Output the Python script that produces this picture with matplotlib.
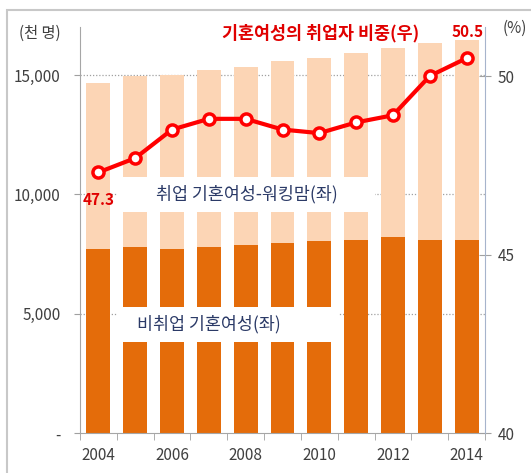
import matplotlib
matplotlib.use("Agg")
import matplotlib.pyplot as plt
from matplotlib.patches import Rectangle
from matplotlib.ticker import FuncFormatter, FixedLocator
import numpy as np

plt.rcParams['font.family'] = ['Noto Sans CJK KR', 'DejaVu Sans']

years = [2004, 2005, 2006, 2007, 2008, 2009, 2010, 2011, 2012, 2013, 2014]
nonworking = [7710, 7780, 7710, 7800, 7870, 7980, 8060, 8100, 8200, 8100, 8100]
working = [6950, 7180, 7290, 7410, 7480, 7610, 7640, 7810, 7920, 8230, 8370]
share = [47.3, 47.7, 48.5, 48.8, 48.8, 48.5, 48.4, 48.7, 48.9, 50.0, 50.5]
xtick_years = [2004, 2006, 2008, 2010, 2012, 2014]
left_ticks = [0, 5000, 10000, 15000]
right_ticks = [40, 45, 50]

title_txt = "기혼여성의 취업자 비중(우)"
lab_working = "취업 기혼여성-워킹맘(좌)"
lab_nonworking = "비취업 기혼여성(좌)"

DARK = "#E46C0A"
LIGHT = "#FCD5B5"
RED = "#FF0000"
NAVY = "#2B3A67"
GRAYTXT = "#404040"

W, H = 531, 473
fig = plt.figure(figsize=(W / 100, H / 100), dpi=100)
fig.patch.set_facecolor("white")

# outer border
fig.patches.append(Rectangle((7 / W, -0.05), 1.2, 1 - 10 / H + 0.05, transform=fig.transFigure,
                             fill=False, edgecolor="#C8C8C8", linewidth=1.5, zorder=0))

ax_l, ax_r, ax_b, ax_t = 80, 485, 433, 27.4
ax = fig.add_axes([ax_l / W, 1 - ax_b / H, (ax_r - ax_l) / W, (ax_b - ax_t) / H])
x = np.arange(len(years))

ax.bar(x, nonworking, width=0.65, color=DARK, zorder=2)
ax.bar(x, working, width=0.65, bottom=nonworking, color=LIGHT, zorder=2)

ax.set_xlim(-0.5, len(years) - 0.5)
ax.set_ylim(0, 17000)
ax.yaxis.set_major_locator(FixedLocator(left_ticks))
ax.yaxis.set_major_formatter(FuncFormatter(lambda v, p: "-" if v == 0 else f"{int(v):,}"))
for yv in left_ticks[1:]:
    ax.axhline(yv, color="#A0A0A0", linestyle=(0, (1, 1.5)), linewidth=0.9, zorder=1)

ax.set_xticks([years.index(y) for y in xtick_years])
ax.set_xticklabels([str(y) for y in xtick_years])
ax.set_xticks(np.arange(-0.5, len(years)), minor=True)
ax.tick_params(axis="x", which="major", length=0, pad=10, labelsize=11, labelcolor=GRAYTXT)
ax.tick_params(axis="x", which="minor", length=5, color="#A0A0A0", direction="out")
ax.tick_params(axis="y", length=4, color="#A0A0A0", labelsize=11, labelcolor=GRAYTXT, pad=10)

for s in ["top", "right"]:
    ax.spines[s].set_visible(False)
ax.spines["left"].set_color("#A6A6A6")
ax.spines["bottom"].set_color("#A6A6A6")

# white label boxes
ax.add_patch(Rectangle((0.5, 9262), 7.0, 1468, facecolor="white", edgecolor="none", zorder=3))
ax.add_patch(Rectangle((0.5, 3814), 6.0, 1467, facecolor="white", edgecolor="none", zorder=3))
ax.text(4.04, 9996, lab_working, ha="center", va="center", fontsize=12.5, color=NAVY,
        fontweight="medium", zorder=4)
ax.text(3.0, 4548, lab_nonworking, ha="center", va="center", fontsize=12.5, color=NAVY,
        fontweight="medium", zorder=4)

ax2 = ax.twinx()
ax2.set_ylim(40, 40 + (ax_b - ax_t) / 35.7)
ax2.plot(x, share, color=RED, linewidth=3, marker="o", markersize=8,
         markerfacecolor="white", markeredgecolor=RED, markeredgewidth=2.5, zorder=5)
ax2.yaxis.set_major_locator(FixedLocator(right_ticks))
ax2.tick_params(axis="y", length=8, direction="inout", color="#A0A0A0", labelsize=11,
                labelcolor=GRAYTXT, pad=5)
for s in ["top", "left", "bottom"]:
    ax2.spines[s].set_visible(False)
ax2.spines["right"].set_color("#A6B4CC")

ax2.annotate(f"{share[0]}", (x[0], share[0]), xytext=(0, -20), textcoords="offset points",
             ha="center", va="center", color="#E00000", fontsize=11, fontweight="bold")
ax2.annotate(f"{share[-1]}", (x[-1], share[-1]), xytext=(1, 19), textcoords="offset points",
             ha="center", va="center", color="#E00000", fontsize=11, fontweight="bold")

fig.text(40 / W, 1 - 33 / H, "(천 명)", ha="center", va="center", fontsize=11, color=GRAYTXT)
fig.text(515 / W, 1 - 28 / H, "(%)", ha="center", va="center", fontsize=11, color=GRAYTXT)
fig.text(321 / W, 1 - 33 / H, title_txt, ha="center", va="center", fontsize=12.5,
         color="#E00000", fontweight="bold")

fig.savefig("out.png", dpi=100)
